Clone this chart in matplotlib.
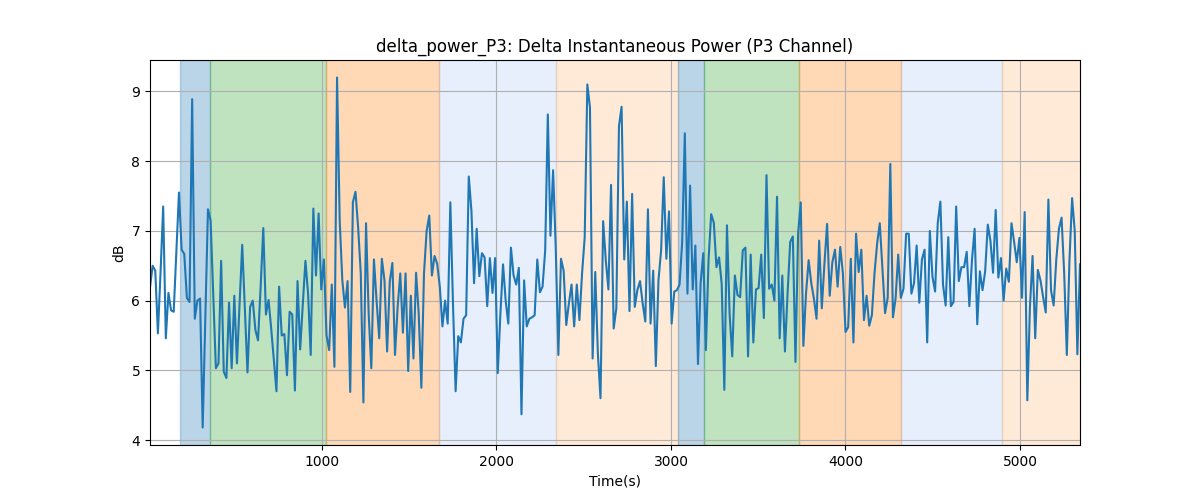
import matplotlib
matplotlib.use('Agg')
import numpy as np
import matplotlib.pyplot as plt

# sample times (uniform sampling) and measured values in dB
t_start = 14.3
t_end = 5344

power_db = [
    6.19, 6.5, 6.43, 5.53, 6.4, 7.35, 5.46, 6.11, 5.86, 5.84,
    6.7, 7.55, 6.73, 6.67, 6.04, 5.98, 8.89, 5.74, 6.0, 6.03,
    4.18, 5.75, 7.31, 7.15, 6.1, 5.03, 5.1, 6.57, 4.98, 4.89,
    5.97, 5.03, 6.07, 5.1, 5.95, 6.8, 5.9, 4.97, 5.91, 6.0,
    5.58, 5.43, 6.2, 7.04, 5.8, 6.01, 5.6, 5.15, 4.7, 6.2,
    5.5, 5.52, 4.93, 5.84, 5.8, 4.71, 6.28, 5.3, 5.95, 6.57,
    6.1, 5.22, 7.32, 6.36, 7.25, 6.16, 6.59, 5.5, 5.29, 6.23,
    5.05, 9.2, 7.15, 6.29, 5.9, 6.28, 4.69, 7.41, 7.56, 7.05,
    6.39, 4.54, 7.11, 5.81, 5.03, 6.59, 6.0, 5.46, 6.6, 6.29,
    5.27, 6.27, 6.54, 5.22, 5.91, 6.39, 5.54, 6.39, 4.99, 6.07,
    5.17, 6.4, 5.81, 4.75, 6.39, 7.0, 7.22, 6.36, 6.64, 6.53,
    6.2, 5.63, 6.0, 5.67, 7.41, 5.96, 4.7, 5.49, 5.4, 5.74,
    5.79, 7.78, 7.29, 6.25, 7.03, 6.35, 6.68, 6.62, 5.92, 6.61,
    6.11, 6.61, 4.96, 5.81, 6.52, 6.0, 5.67, 6.76, 6.36, 6.23,
    6.47, 4.37, 6.29, 5.63, 5.74, 5.76, 5.79, 6.59, 6.12, 6.2,
    6.72, 8.67, 6.93, 7.87, 6.77, 5.22, 6.6, 6.43, 5.65, 5.96,
    6.23, 5.63, 6.23, 5.72, 6.39, 6.91, 9.1, 8.77, 5.17, 6.41,
    5.24, 4.6, 7.14, 6.58, 6.16, 7.66, 5.6, 5.89,
    8.5, 8.78, 6.59, 7.42, 5.85, 7.53, 5.91, 6.15, 6.28, 5.96,
    5.7, 7.31, 5.67, 6.43, 5.06, 6.29, 6.72, 7.77, 6.6, 7.28,
    5.67, 6.13, 6.15, 6.23, 6.84, 8.4, 6.1, 7.65, 6.16, 6.79,
    5.09, 6.25, 6.68, 5.29, 6.58, 7.24, 7.12, 6.48, 6.62, 6.24,
    4.72, 7.08, 5.81, 5.2, 6.36, 6.08, 6.05, 6.72, 6.76, 5.2,
    6.66, 5.4, 6.16, 6.18, 6.66, 5.75, 7.8, 6.17, 6.23, 6.0,
    7.49, 5.46, 6.36, 5.27, 6.1, 6.84, 6.92, 5.12, 6.96, 7.41,
    5.35, 6.1, 6.58, 6.25, 6.03, 5.74, 6.86, 5.89, 6.53, 7.1,
    6.07, 6.55, 6.73, 6.2, 6.77, 6.39, 5.55, 5.62, 6.6, 5.4,
    6.96, 6.41, 6.73, 5.72, 6.07, 5.64, 5.79, 6.39, 6.82, 7.11,
    6.46, 5.82, 6.04, 7.96, 5.76, 6.03, 6.66, 6.04, 6.17, 6.96,
    6.96, 6.1, 6.25, 6.79, 5.97, 6.59, 6.73, 5.4,
    7.0, 6.34, 6.13, 7.11, 7.42, 6.23, 5.93, 6.91, 5.92, 5.98,
    7.35, 6.28, 6.48, 6.48, 6.7, 5.92, 6.58, 7.03, 5.66, 6.42,
    6.15, 6.42, 7.09, 6.86, 6.4, 7.3, 6.33, 6.61, 6.0, 6.46,
    6.27, 7.11, 6.84, 6.55, 6.9, 6.04, 7.27, 4.57, 5.91, 6.64,
    5.46, 6.44, 6.29, 6.05, 5.83, 7.45, 6.15, 5.93, 6.59, 7.03,
    7.19, 6.39, 5.22, 6.58, 7.47, 7.0, 5.23, 6.52,
]

# shaded stages: start, end, colour, alpha
span_starts = [186, 360, 1021, 1669, 2341, 3042, 3191, 3735, 4316, 4899]
span_ends = [360, 1021, 1669, 2341, 3042, 3191, 3735, 4316, 4899, 5344]
span_colors = ['tab:blue', 'tab:green', 'tab:orange', 'cornflowerblue', 'tab:orange',
               'tab:blue', 'tab:green', 'tab:orange', 'cornflowerblue', 'tab:orange']
span_alphas = [0.3, 0.3, 0.3, 0.15, 0.16, 0.3, 0.3, 0.3, 0.15, 0.16]

time_s = np.linspace(t_start, t_end, len(power_db))

fig, ax = plt.subplots(figsize=(12, 5))

for s, e, c, a in zip(span_starts, span_ends, span_colors, span_alphas):
    ax.axvspan(s, e, color=c, alpha=a)

ax.plot(time_s, power_db, color='tab:blue', linewidth=1.5)

ax.set_xlim(time_s[0], time_s[-1])
ax.set_title('delta_power_P3: Delta Instantaneous Power (P3 Channel)')
ax.set_xlabel('Time(s)')
ax.set_ylabel('dB')
ax.grid(True)

plt.savefig('out.png', dpi=100)
plt.close()
